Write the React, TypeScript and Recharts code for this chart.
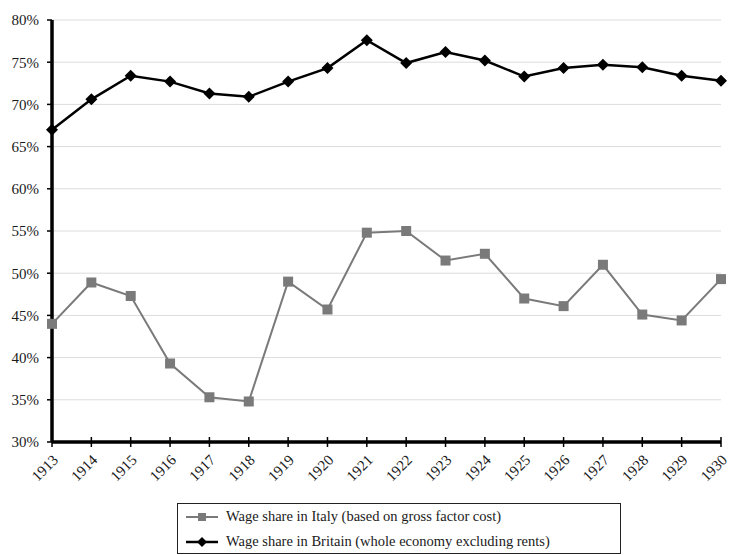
import { LineChart, Line, XAxis, YAxis, CartesianGrid, Legend } from "recharts";

const years = ["1913", "1914", "1915", "1916", "1917", "1918", "1919", "1920", "1921", "1922", "1923", "1924", "1925", "1926", "1927", "1928", "1929", "1930"];
const italyShare = [44.0, 48.9, 47.3, 39.3, 35.3, 34.8, 49.0, 45.7, 54.8, 55.0, 51.5, 52.3, 47.0, 46.1, 51.0, 45.1, 44.4, 49.3];
const britainShare = [67.0, 70.6, 73.4, 72.7, 71.3, 70.9, 72.7, 74.3, 77.6, 74.9, 76.2, 75.2, 73.3, 74.3, 74.7, 74.4, 73.4, 72.8];
const yTicks = [30, 35, 40, 45, 50, 55, 60, 65, 70, 75, 80];

const ITALY_NAME = "Wage share in Italy (based on gross factor cost)";
const BRITAIN_NAME = "Wage share in Britain (whole economy excluding rents)";

const FONT = "'Liberation Serif', 'DejaVu Serif', serif";
const TEXT = "#1a1a1a";
const GRAY = "#7a7a7a";

const data = years.map((year, i) => ({ year, italy: italyShare[i], britain: britainShare[i] }));

function XTick({ x, y, payload }: any) {
  return (
    <g>
      <line x1={x} x2={x} y1={y - 5} y2={y + 5} stroke="#000" strokeWidth={1.5} />
      <text
        transform={`translate(${x + 7},${y + 19}) rotate(-45)`}
        textAnchor="end"
        fontSize={15}
        fontFamily={FONT}
        fill={TEXT}
      >
        {payload.value}
      </text>
    </g>
  );
}

function SquareDot({ cx, cy, index }: any) {
  return <rect key={index} x={cx - 5} y={cy - 5} width={10} height={10} fill={GRAY} />;
}

function DiamondDot({ cx, cy, index }: any) {
  return (
    <polygon
      key={index}
      points={`${cx},${cy - 6} ${cx + 6},${cy} ${cx},${cy + 6} ${cx - 6},${cy}`}
      fill="#000"
    />
  );
}

function LegendIcon({ kind }: { kind: "square" | "diamond" }) {
  const color = kind === "square" ? GRAY : "#000";
  return (
    <svg width={32} height={14} style={{ marginRight: 8, flexShrink: 0 }}>
      <line x1={0} x2={32} y1={7} y2={7} stroke={color} strokeWidth={kind === "square" ? 2 : 2.5} />
      {kind === "square" ? (
        <rect x={12} y={3} width={8} height={8} fill={GRAY} />
      ) : (
        <polygon points="16,2 21,7 16,12 11,7" fill="#000" />
      )}
    </svg>
  );
}

function LegendBox() {
  const rows: { name: string; kind: "square" | "diamond" }[] = [
    { name: ITALY_NAME, kind: "square" },
    { name: BRITAIN_NAME, kind: "diamond" },
  ];
  return (
    <div style={{ height: 52, position: "relative" }}>
      <div
        style={{
          position: "absolute",
          left: 177,
          top: 0,
          width: 444,
          height: 51,
          border: "1px solid #222",
          boxSizing: "border-box",
          paddingLeft: 8,
        }}
      >
        {rows.map((r) => (
          <div
            key={r.name}
            style={{
              display: "flex",
              alignItems: "center",
              height: 25,
              fontFamily: FONT,
              fontSize: 14.5,
              color: TEXT,
              whiteSpace: "nowrap",
            }}
          >
            <LegendIcon kind={r.kind} />
            {r.name}
          </div>
        ))}
      </div>
    </div>
  );
}

export default function App() {
  return (
    <div style={{ position: "absolute", left: 0, top: 0, background: "#fff" }}>
      <LineChart width={730} height={555} data={data} margin={{ top: 20, right: 9, left: 0, bottom: 0 }}>
        <CartesianGrid vertical={false} stroke="#dcdcdc" strokeWidth={1} />
        <XAxis
          dataKey="year"
          height={61}
          interval={0}
          tickSize={0}
          tickMargin={0}
          tick={<XTick />}
          axisLine={{ stroke: "#000", strokeWidth: 3.5 }}
        />
        <YAxis
          width={52}
          domain={[30, 80]}
          ticks={yTicks}
          interval={0}
          tickFormatter={(v: number) => `${v}%`}
          tickSize={5}
          tickMargin={8}
          tickLine={{ stroke: "#000", strokeWidth: 1.5 }}
          axisLine={{ stroke: "#000", strokeWidth: 3.5 }}
          tick={{ fontSize: 15, fontFamily: FONT, fill: TEXT }}
        />
        <Legend verticalAlign="bottom" height={52} content={() => <LegendBox />} />
        <Line
          name={ITALY_NAME}
          dataKey="italy"
          stroke={GRAY}
          strokeWidth={2}
          dot={<SquareDot />}
          activeDot={false}
          isAnimationActive={false}
        />
        <Line
          name={BRITAIN_NAME}
          dataKey="britain"
          stroke="#000"
          strokeWidth={2.5}
          dot={<DiamondDot />}
          activeDot={false}
          isAnimationActive={false}
        />
      </LineChart>
    </div>
  );
}
